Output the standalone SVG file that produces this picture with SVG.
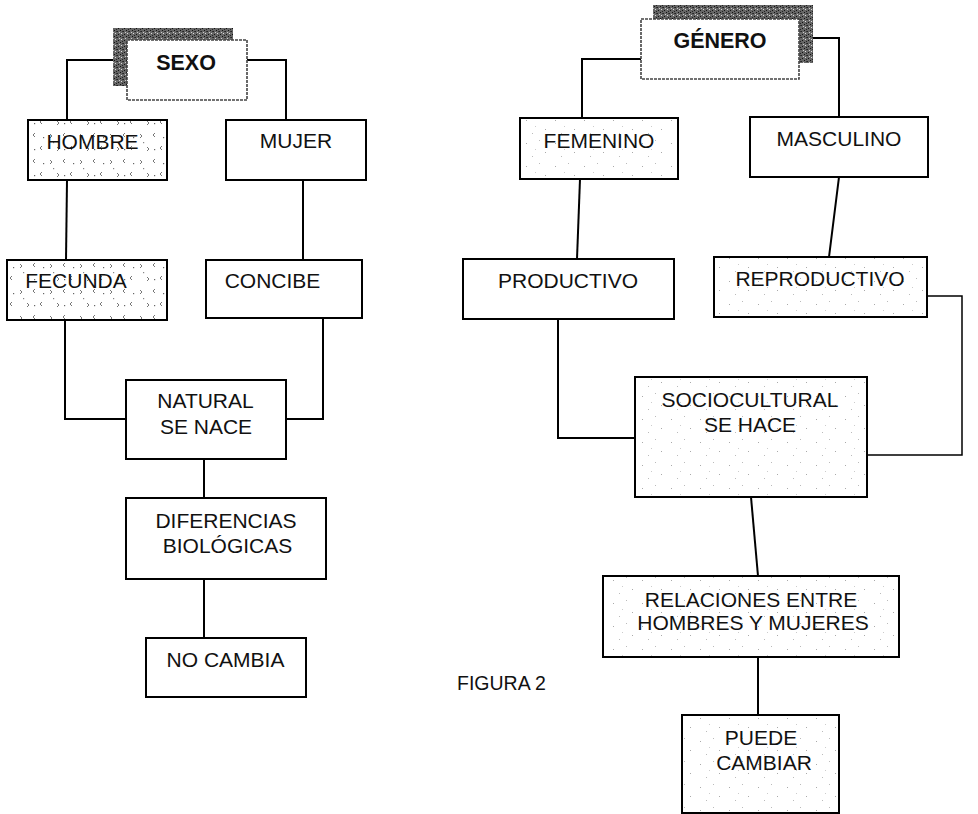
<svg xmlns="http://www.w3.org/2000/svg" width="978" height="814" viewBox="0 0 978 814">
<defs>
<pattern id="shade" width="6" height="6" patternUnits="userSpaceOnUse">
<rect width="6" height="6" fill="#666"/>
<rect x="0" y="0" width="1" height="1" fill="#111"/>
<rect x="3" y="1" width="1" height="1" fill="#222"/>
<rect x="1" y="3" width="1" height="1" fill="#ddd"/>
<rect x="4" y="4" width="1" height="1" fill="#111"/>
<rect x="5" y="2" width="1" height="1" fill="#ccc"/>
<rect x="2" y="5" width="1" height="1" fill="#222"/>
<rect x="2" y="1" width="1" height="1" fill="#333"/>
</pattern>
<pattern id="dots" width="30" height="26" patternUnits="userSpaceOnUse">
<rect width="30" height="26" fill="#fff"/>
<path d="M5 3 l-2 2 l2 2 M20 4 l2 2 l-2 2 M12 16 l-2 2 l2 2 M27 17 l2 2 l-2 2" fill="none" stroke="#777" stroke-width="1"/>
<rect x="13" y="7" width="1.2" height="1.2" fill="#666"/>
<rect x="4" y="19" width="1.2" height="1.2" fill="#666"/>
<rect x="23" y="12" width="1.2" height="1.2" fill="#888"/>
</pattern>
<pattern id="speck" width="29" height="23" patternUnits="userSpaceOnUse">
<rect width="29" height="23" fill="#fff"/>
<rect x="4" y="5" width="1" height="1" fill="#aaa"/>
<rect x="17" y="2" width="1" height="1" fill="#bbb"/>
<rect x="23" y="14" width="1" height="1" fill="#aaa"/>
<rect x="10" y="18" width="1" height="1" fill="#bbb"/>
<rect x="13" y="11" width="1" height="1" fill="#ccc"/>
</pattern>
<style>
.box{fill:#fff;stroke:#000;stroke-width:2}
.sp{fill:url(#speck)}
.dt{fill:url(#dots)}
.sh{fill:url(#shade)}
.hd{stroke:#444;stroke-width:1.6;stroke-dasharray:3 1}
.t{font-family:"Liberation Sans",Arial,sans-serif;font-size:21px;fill:#111;text-anchor:middle}
.b{font-weight:bold;font-size:21.5px}
.c{fill:none;stroke:#000;stroke-width:2}
</style>
</defs>

<g id="connectors">
<polyline class="c" points="113,60 67,60 67,120"/>
<polyline class="c" points="247,60 286,60 286,120"/>
<line class="c" x1="67" y1="180" x2="66" y2="260"/>
<line class="c" x1="303" y1="180" x2="303" y2="260"/>
<polyline class="c" points="65,320 65,419 126,419"/>
<polyline class="c" points="323,318 323,419 286,419"/>
<line class="c" x1="204" y1="459" x2="204" y2="498"/>
<line class="c" x1="204" y1="579" x2="204" y2="638"/>
<polyline class="c" points="641,59 582,59 582,118"/>
<polyline class="c" points="813,38 839,38 839,117"/>
<line class="c" x1="580" y1="179" x2="577" y2="259"/>
<line class="c" x1="839" y1="177" x2="829" y2="257"/>
<polyline class="c" points="558,319 558,438 635,438"/>
<polyline class="c" points="927,296 962,296 962,455 867,455" style="stroke-width:1.5"/>
<line class="c" x1="751" y1="497" x2="758" y2="576"/>
<line class="c" x1="758" y1="657" x2="758" y2="715"/>
</g>

<g id="sexo">
<rect class="sh" x="113" y="28" width="120" height="58"/>
<rect class="box hd" x="127" y="40" width="120" height="60"/>
<text class="t b" x="186" y="70">SEXO</text>
</g>
<g id="hombre">
<rect class="box dt" x="28" y="120" width="139" height="60"/>
<text class="t" x="92.5" y="149">HOMBRE</text>
</g>
<g id="mujer">
<rect class="box" x="226" y="120" width="140" height="60"/>
<text class="t" x="296" y="148">MUJER</text>
</g>
<g id="fecunda">
<rect class="box dt" x="7" y="260" width="160" height="60"/>
<text class="t" x="76" y="288">FECUNDA</text>
</g>
<g id="concibe">
<rect class="box" x="206" y="260" width="156" height="58"/>
<text class="t" x="272.5" y="288">CONCIBE</text>
</g>
<g id="natural">
<rect class="box" x="126" y="380" width="160" height="79"/>
<text class="t" x="205.5" y="408">NATURAL</text>
<text class="t" x="206" y="434">SE NACE</text>
</g>
<g id="diferencias">
<rect class="box" x="126" y="498" width="200" height="81"/>
<text class="t" x="226" y="528">DIFERENCIAS</text>
<text class="t" x="227.5" y="553">BIOLÓGICAS</text>
</g>
<g id="nocambia">
<rect class="box" x="146" y="638" width="160" height="59"/>
<text class="t" x="225.5" y="667">NO CAMBIA</text>
</g>

<g id="genero">
<rect class="sh" x="653" y="5" width="160" height="58"/>
<rect class="box hd" x="641" y="19" width="158" height="60"/>
<text class="t b" x="720" y="48">GÉNERO</text>
</g>
<g id="femenino">
<rect class="box sp" x="520" y="118" width="158" height="61"/>
<text class="t" x="599" y="148">FEMENINO</text>
</g>
<g id="masculino">
<rect class="box" x="750" y="117" width="178" height="60"/>
<text class="t" x="839" y="146">MASCULINO</text>
</g>
<g id="productivo">
<rect class="box" x="463" y="259" width="211" height="60"/>
<text class="t" x="568" y="288">PRODUCTIVO</text>
</g>
<g id="reproductivo">
<rect class="box sp" x="714" y="257" width="213" height="60"/>
<text class="t" x="820" y="286">REPRODUCTIVO</text>
</g>
<g id="sociocultural">
<rect class="box sp" x="635" y="377" width="232" height="120"/>
<text class="t" x="750" y="407">SOCIOCULTURAL</text>
<text class="t" x="750" y="432">SE HACE</text>
</g>
<g id="relaciones">
<rect class="box sp" x="603" y="576" width="296" height="81"/>
<text class="t" x="751" y="607">RELACIONES ENTRE</text>
<text class="t" x="753" y="630">HOMBRES Y MUJERES</text>
</g>
<g id="puede">
<rect class="box sp" x="682" y="715" width="157" height="98"/>
<text class="t" x="761" y="745">PUEDE</text>
<text class="t" x="764" y="770">CAMBIAR</text>
</g>

<text class="t" x="457" y="690" style="text-anchor:start;font-size:19.5px">FIGURA 2</text>
</svg>
